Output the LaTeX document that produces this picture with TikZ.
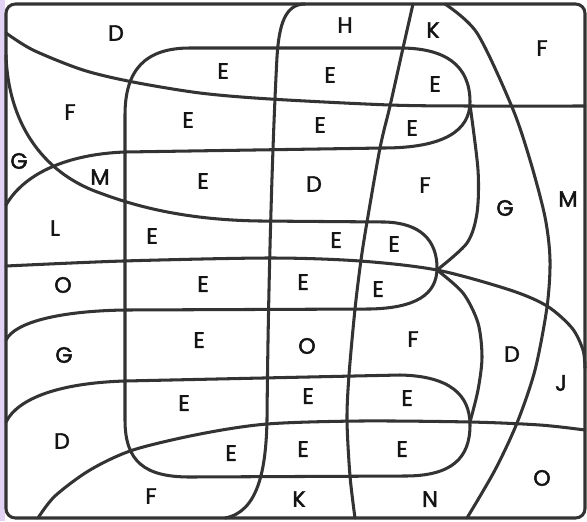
\documentclass[tikz,border=0pt]{standalone}
\usepackage{fontspec}
\setmainfont{Poppins}
\newfontfamily\letterfont{Poppins}[FakeBold=2]
\usetikzlibrary{backgrounds}
\definecolor{inkline}  {HTML}{333333}
\definecolor{inktext}  {HTML}{141414}
\definecolor{edgelilac}{HTML}{E2D2F4}

\begin{document}
\begin{tikzpicture}[
    x=0.03cm, y=-0.03cm,
    curve/.style={draw=inkline, line width=2.6pt, line cap=round, line join=round},
    frame/.style={draw=inkline, line width=2.6pt, rounded corners=8pt},
    lbl/.style={font=\letterfont\fontsize{19}{19}\selectfont, text=inktext, inner sep=0pt}
]

% ── BACKGROUND ─────────────────────────────────────────────────
\useasboundingbox (0,0) rectangle (587,521);
\begin{scope}[on background layer]
    \fill[white] (0,0) rectangle (587,521);
    \fill[edgelilac] (0,0) rectangle (5,521);
\end{scope}

% === FRAME ===
\draw[frame] (6,4) rectangle (585,518);

% === HORIZONTAL CURVES ===
% top sweep
\draw[curve] plot[smooth] coordinates
    {(6,33) (33,50) (83,70) (133,82) (200,93) (270,99) (390,105) (470,106) (585,106)};

% middle loop
\draw[curve] (6,55) .. controls (8,120) and (40,172) .. (100,193)
    .. controls (140,208) and (190,220) .. (260,221) -- (385,222)
    .. controls (420,223) and (437,240) .. (437,268)
    .. controls (437,295) and (415,308) .. (370,309) -- (125,310)
    .. controls (60,311) and (15,322) .. (6,340);

% big double loop
\draw[curve] (6,205) .. controls (25,172) and (70,154) .. (125,152) -- (383,148)
    .. controls (445,148) and (470,130) .. (470,102)
    .. controls (470,65) and (445,48) .. (400,48) -- (190,48)
    .. controls (145,48) and (125,70) .. (125,115) -- (125,420)
    .. controls (125,462) and (145,477) .. (190,477) -- (405,476)
    .. controls (452,476) and (470,458) .. (470,425)
    .. controls (470,395) and (450,376) .. (400,375) -- (125,381)
    .. controls (60,383) and (18,398) .. (6,422);

% centre line
\draw[curve] plot[smooth] coordinates
    {(6,266) (123,261) (270,258) (360,261) (437,270) (510,290) (547,306) (572,328) (583,350) (585,368)};

% lower sweep
\draw[curve] plot[smooth] coordinates
    {(38,518) (55,496) (90,470) (133,450) (200,434) (267,424) (360,421) (470,422) (540,425) (585,430)};

% === VERTICAL CURVES ===
\draw[curve] (305,4) .. controls (285,4) and (279,25) .. (277,57)
    .. controls (272,150) and (268,300) .. (267,420)
    .. controls (266,470) and (258,512) .. (225,518);

\draw[curve] plot[smooth] coordinates
    {(413,4) (403,48) (390,106) (380,148) (367,222) (361,260) (355,309) (349,375) (347,420) (350,476) (355,518)};

\draw[curve] plot[smooth] coordinates
    {(445,4) (477,33) (512,107) (530,160) (545,217) (550,260) (547,307) (535,370) (517,423) (495,470) (467,518)};

% spine through the loop tips
\draw[curve] plot[smooth] coordinates
    {(470,105) (478,170) (477,213) (467,243) (437,270)};
\draw[curve] plot[smooth] coordinates
    {(437,270) (463,293) (478,323) (482,357) (478,390) (470,422)};

% ── LETTERS ────────────────────────────────────────────────────
% top band
\node[lbl] (tD1) at (116,33) {D};
\node[lbl] (tH1) at (345,25) {H};
\node[lbl] (tK1) at (433,30) {K};
\node[lbl] (tF1) at (542,48) {F};
\node[lbl] (tE1) at (223,71) {E};
\node[lbl] (tE2) at (330,75) {E};
\node[lbl] (tE3) at (435,84) {E};
\node[lbl] (tF2) at (70,112) {F};
\node[lbl] (tE4) at (188,120) {E};
\node[lbl] (tE5) at (320,125) {E};
\node[lbl] (tE6) at (412,128) {E};

% upper middle
\node[lbl] (tG1) at (19,161) {G};
\node[lbl] (tM1) at (100,177) {M};
\node[lbl] (tE7) at (203,181) {E};
\node[lbl] (tD2) at (314,184) {D};
\node[lbl] (tF3) at (425,185) {F};
\node[lbl] (tG2) at (505,208) {G};
\node[lbl] (tM2) at (568,199) {M};
\node[lbl] (tL1) at (55,228) {L};
\node[lbl] (tE8) at (152,236) {E};
\node[lbl] (tE9) at (336,240) {E};
\node[lbl] (tE10) at (394,244) {E};

% lower middle
\node[lbl] (tO1) at (63,285) {O};
\node[lbl] (tE11) at (203,284) {E};
\node[lbl] (tE12) at (303,282) {E};
\node[lbl] (tE13) at (378,289) {E};
\node[lbl] (tE14) at (199,340) {E};
\node[lbl] (tO2) at (307,346) {O};
\node[lbl] (tF4) at (413,339) {F};
\node[lbl] (tG3) at (64,355) {G};
\node[lbl] (tD3) at (512,354) {D};
\node[lbl] (tJ1) at (561,383) {J};

% bottom band
\node[lbl] (tE15) at (184,403) {E};
\node[lbl] (tE16) at (308,396) {E};
\node[lbl] (tE17) at (407,398) {E};
\node[lbl] (tD4) at (62,441) {D};
\node[lbl] (tE18) at (231,453) {E};
\node[lbl] (tE19) at (303,449) {E};
\node[lbl] (tE20) at (402,449) {E};
\node[lbl] (tO3) at (542,478) {O};
\node[lbl] (tF5) at (151,496) {F};
\node[lbl] (tK2) at (299,499) {K};
\node[lbl] (tN1) at (430,499) {N};

\end{tikzpicture}
\end{document}
